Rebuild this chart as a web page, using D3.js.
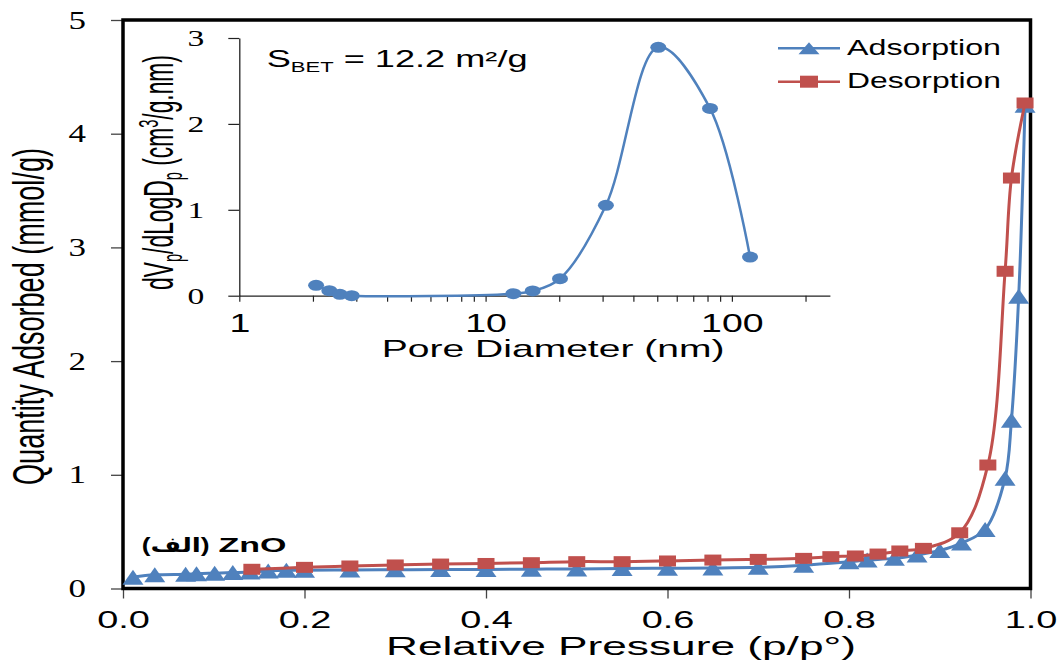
<!DOCTYPE html>
<html>
<head>
<meta charset="utf-8">
<script src="https://cdn.jsdelivr.net/npm/d3@7"></script>
<style>
body { margin: 0; background: #fff; }
svg { display: block; }
</style>
</head>
<body>
<script>
// isotherm - adsorption branch
const adsP = [0.011, 0.035, 0.069, 0.081, 0.101, 0.121, 0.14, 0.16, 0.18, 0.2, 0.25, 0.3, 0.35, 0.4, 0.45, 0.5,
    0.55, 0.6, 0.65, 0.7, 0.75, 0.8, 0.82, 0.85, 0.875, 0.9, 0.924, 0.95, 0.972, 0.979, 0.987, 0.994];
const adsQ = [0.10, 0.12, 0.125, 0.13, 0.135, 0.14, 0.145, 0.155, 0.16, 0.16, 0.163, 0.165, 0.167, 0.168, 0.17, 0.172,
    0.176, 0.178, 0.18, 0.186, 0.205, 0.236, 0.25, 0.265, 0.295, 0.335, 0.40, 0.52, 0.97, 1.48, 2.57, 4.25];

// desorption branch
const desP = [0.142, 0.2, 0.25, 0.3, 0.35, 0.4, 0.45, 0.5, 0.55, 0.6, 0.65, 0.7, 0.75, 0.78, 0.807, 0.832, 0.856,
    0.882, 0.922, 0.953, 0.972, 0.979, 0.994];
const desQ = [0.169, 0.186, 0.198, 0.207, 0.215, 0.22, 0.227, 0.236, 0.236, 0.242, 0.25, 0.256, 0.265, 0.28, 0.286,
    0.303, 0.33, 0.353, 0.49, 1.086, 2.79, 3.61, 4.27];

// pore size distribution (inset)
const poreD = [2.05, 2.32, 2.56, 2.86, 12.96, 15.53, 20.05, 30.8, 50.25, 81.5, 118.5];
const poreV = [0.121, 0.058, 0.016, 0.0, 0.023, 0.055, 0.198, 1.052, 2.892, 2.18, 0.45];

const xTicks = [0, 0.2, 0.4, 0.6, 0.8, 1.0];
const yTicks = [0, 1, 2, 3, 4, 5];
const insetXTicks = [1, 10, 100];
const insetXMinor = [2, 3, 4, 5, 6, 7, 8, 9, 20, 30, 40, 50, 60, 70, 80, 90, 200];
const insetYTicks = [0, 1, 2, 3];

const seriesNames = ["Adsorption", "Desorption"];
const blue = "#4F81BD", red = "#C0504D";
const sans = "'Liberation Sans', Arial, 'DejaVu Sans', sans-serif";
const serif = "'Liberation Serif', 'Times New Roman', serif";

const svg = d3.select("body").append("svg")
    .attr("width", 1064)
    .attr("height", 664);

// le graphe a l'air etire horizontalement -> on etire les textes aussi
function fitText(sel, x, y, rot, w) {
    const bw = sel.node().getBBox().width;
    sel.attr("transform", `translate(${x},${y}) rotate(${rot}) scale(${w / bw},1)`);
}

function stretchTicks(sel, k) {
    sel.each(function () {
        const t = d3.select(this);
        const x0 = +t.attr("x") || 0;
        t.attr("x", 0).attr("transform", `translate(${x0},0) scale(${k},1)`);
    });
}

//Echelles
const x = d3.scaleLinear().domain([0, 1]).range([123, 1030.5]);
const y = d3.scaleLinear().domain([0, 5]).range([588.5, 20]);

//Axes
const gx = svg.append("g")
    .attr("transform", "translate(0," + y(0) + ")")
    .call(d3.axisBottom(x).tickValues(xTicks).tickFormat(d3.format(".1f"))
        .tickSize(10).tickSizeOuter(0).tickPadding(13));
gx.select(".domain").remove();
gx.selectAll("line").attr("stroke", "#444").attr("stroke-width", 1.3);
gx.selectAll("text").attr("font-size", 23).attr("font-family", sans).attr("fill", "#000");
stretchTicks(gx.selectAll("text"), 1.65);

const gy = svg.append("g")
    .attr("transform", "translate(" + x(0) + ",0)")
    .call(d3.axisLeft(y).tickValues(yTicks).tickFormat(d3.format("d"))
        .tickSize(12).tickSizeOuter(0).tickPadding(25));
gy.select(".domain").remove();
gy.selectAll("line").attr("stroke", "#444").attr("stroke-width", 1.3);
gy.selectAll("text").attr("font-size", 25).attr("font-family", serif).attr("fill", "#000");
stretchTicks(gy.selectAll("text"), 1.4);

// cadre
svg.append("rect")
    .attr("x", x(0)).attr("y", y(5))
    .attr("width", x(1) - x(0)).attr("height", y(0) - y(5))
    .attr("fill", "none").attr("stroke", "#000").attr("stroke-width", 3.5);

//Donnees
const ads = adsP.map((p, i) => ({ p: p, q: adsQ[i] }));
const des = desP.map((p, i) => ({ p: p, q: desQ[i] }));

const line = d3.line()
    .x(d => x(d.p))
    .y(d => y(d.q))
    .curve(d3.curveCatmullRom.alpha(0.5));

const tri = "M0,-7.5L10.5,7.5L-10.5,7.5Z";

svg.append("path").datum(ads)
    .attr("d", line).attr("fill", "none").attr("stroke", blue).attr("stroke-width", 3);
svg.selectAll(".tri")
    .data(ads)
    .enter()
    .append("path")
    .attr("class", "tri")
    .attr("d", tri)
    .attr("transform", d => "translate(" + x(d.p) + "," + y(d.q) + ")")
    .attr("fill", blue);

svg.append("path").datum(des)
    .attr("d", line).attr("fill", "none").attr("stroke", red).attr("stroke-width", 3);
svg.selectAll(".sq")
    .data(des)
    .enter()
    .append("rect")
    .attr("class", "sq")
    .attr("x", d => x(d.p) - 8.5)
    .attr("y", d => y(d.q) - 5.5)
    .attr("width", 17)
    .attr("height", 11)
    .attr("fill", red);

//Legende
const legY = [48.3, 81.7];
seriesNames.forEach((name, i) => {
    const c = i === 0 ? blue : red;
    svg.append("line")
        .attr("x1", 778).attr("x2", 840)
        .attr("y1", legY[i]).attr("y2", legY[i])
        .attr("stroke", c).attr("stroke-width", 2.5);
    if (i === 0) {
        svg.append("path").attr("d", "M0,-6L10.5,6L-10.5,6Z")
            .attr("transform", "translate(809," + legY[i] + ")").attr("fill", c);
    } else {
        svg.append("rect").attr("x", 800).attr("y", legY[i] - 6)
            .attr("width", 18).attr("height", 12).attr("fill", c);
    }
    const t = svg.append("text")
        .attr("font-family", sans).attr("font-size", 22)
        .text(name);
    fitText(t, 847, legY[i] + 6.5, 0, 154);
});

//Titres
const xt = svg.append("text").attr("font-family", sans).attr("font-size", 25.5)
    .text("Relative Pressure (p/p°)");
fitText(xt, 386, 655, 0, 470);

const yt = svg.append("text").attr("font-family", sans).attr("font-size", 44)
    .attr("text-anchor", "middle")
    .text("Quantity Adsorbed (mmol/g)");
fitText(yt, 44, 316.5, -90, 337);

// etiquette de l'echantillon, en deux morceaux pour garder les largeurs
const znA = svg.append("text").attr("font-family", sans).attr("font-size", 20)
    .attr("font-weight", "bold").attr("direction", "ltr")
    .text("(الف)");
fitText(znA, 141.7, 551.7, 0, 68);
const znB = svg.append("text").attr("font-family", sans).attr("font-size", 21)
    .attr("font-weight", "bold")
    .text("ZnO");
fitText(znB, 218.5, 551.7, 0, 68);

// --- encart : distribution de la taille des pores ---
const ix = d3.scaleLog().domain([1, 250]).range([239.3, 829.9]);
const iy = d3.scaleLinear().domain([0, 3]).range([295.7, 38]);

const igx = svg.append("g")
    .attr("transform", "translate(0," + iy(0) + ")")
    .call(d3.axisBottom(ix).tickValues(insetXTicks).tickFormat(d3.format("d"))
        .tickSize(6).tickSizeOuter(0).tickPadding(13));
igx.select(".domain").attr("stroke", "#222").attr("stroke-width", 1.3);
igx.selectAll("line").attr("stroke", "#222").attr("stroke-width", 1.2);
igx.selectAll("text").attr("font-size", 25).attr("font-family", sans).attr("fill", "#000");
stretchTicks(igx.selectAll("text"), 1.5);
igx.selectAll(".minor")
    .data(insetXMinor)
    .enter()
    .append("line")
    .attr("class", "minor")
    .attr("x1", d => ix(d)).attr("x2", d => ix(d))
    .attr("y1", 0).attr("y2", 6)
    .attr("stroke", "#222").attr("stroke-width", 1.2);

const igy = svg.append("g")
    .attr("transform", "translate(" + ix(1) + ",0)")
    .call(d3.axisLeft(iy).tickValues(insetYTicks).tickFormat(d3.format("d"))
        .tickSize(11).tickSizeOuter(0).tickPadding(24));
igy.select(".domain").attr("stroke", "#222").attr("stroke-width", 1.3);
igy.selectAll("line").attr("stroke", "#222").attr("stroke-width", 1.2);
igy.selectAll("text").attr("font-size", 24).attr("font-family", serif).attr("fill", "#000");
stretchTicks(igy.selectAll("text"), 1.4);

const pores = poreD.map((d, i) => ({ d: d, v: poreV[i] }));
svg.append("path").datum(pores)
    .attr("d", d3.line().x(d => ix(d.d)).y(d => iy(d.v)).curve(d3.curveCatmullRom.alpha(0.5)))
    .attr("fill", "none").attr("stroke", blue).attr("stroke-width", 2.5);
svg.selectAll(".dot")
    .data(pores)
    .enter()
    .append("ellipse")
    .attr("class", "dot")
    .attr("cx", d => ix(d.d))
    .attr("cy", d => iy(d.v))
    .attr("rx", 8).attr("ry", 5.5)
    .attr("fill", blue);

const ixt = svg.append("text").attr("font-family", sans).attr("font-size", 24)
    .text("Pore Diameter (nm)");
fitText(ixt, 381.7, 356.7, 0, 343);

const iyt = svg.append("text").attr("font-family", sans).attr("font-size", 42)
    .attr("text-anchor", "middle");
iyt.append("tspan").text("dV");
iyt.append("tspan").attr("font-size", 27).attr("dy", 9).text("p");
iyt.append("tspan").attr("dy", -9).text("/dLogD");
iyt.append("tspan").attr("font-size", 27).attr("dy", 9).text("p");
iyt.append("tspan").attr("dy", -9).text(" (cm");
iyt.append("tspan").attr("font-size", 27).attr("dy", -15).text("3");
iyt.append("tspan").attr("dy", 15).text("/g.nm)");
fitText(iyt, 173, 172.5, -90, 235);

const sb = svg.append("text").attr("font-family", sans).attr("font-size", 23);
sb.append("tspan").text("S");
sb.append("tspan").attr("font-size", 14).attr("dy", 5).text("BET");
sb.append("tspan").attr("dy", -5).text(" = 12.2 m²/g");
fitText(sb, 266.7, 66.7, 0, 261);
</script>
</body>
</html>
